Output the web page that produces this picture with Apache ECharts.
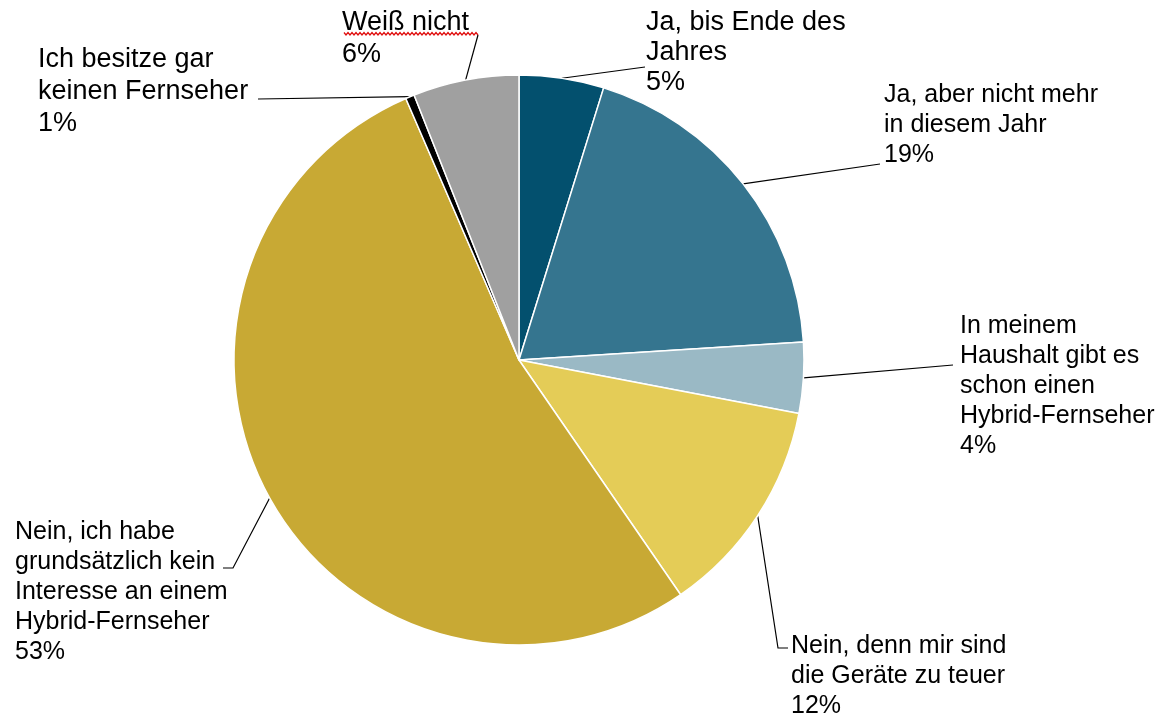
<!DOCTYPE html>
<html>
<head>
<meta charset="utf-8">
<script src="https://cdn.jsdelivr.net/npm/echarts@6/dist/echarts.min.js"></script>
<style>
html, body { margin: 0; padding: 0; background: #fff; }
#chart { width: 1167px; height: 719px; }
</style>
</head>
<body>
<div id="chart"></div>
<script>
// Anteile (Prozent), im Uhrzeigersinn ab 12 Uhr
var categories = [
	'Ja, bis Ende des\nJahres',
	'Ja, aber nicht mehr\nin diesem Jahr',
	'In meinem\nHaushalt gibt es\nschon einen\nHybrid-Fernseher',
	'Nein, denn mir sind\ndie Geräte zu teuer',
	'Nein, ich habe\ngrundsätzlich kein\nInteresse an einem\nHybrid-Fernseher',
	'Ich besitze gar\nkeinen Fernseher',
	'Weiß nicht'
];
var values = [4.8, 19.2, 4.0, 12.4, 53.1, 0.5, 6.0];
var colors = ['#03506E', '#35758F', '#9AB9C5', '#E4CC57', '#C8A934', '#000000', '#A0A0A0'];

// Beschriftung: linke obere Ecke des Textblocks, Schriftgrösse, Zeilenhöhe
var labelPos = [[646, 8], [884, 80], [960, 311], [791, 631], [15, 517], [38, 44], [342, 7]];
var labelSize = [27, 25, 25, 25, 25, 27, 27];
var labelLine = [30, 30, 30, 30, 30, 32, 32];
// Knick- und Endpunkt der Führungslinie
var lineBend = [[645, 67], [880, 164], [953, 365], [778, 648], [233, 568], [258, 99], [478, 35]];
var lineEnd = [[645, 67], [880, 164], [953, 365], [788, 648], [223, 568], [258, 99], [478, 35]];

var chart = echarts.init(document.getElementById('chart'));

var pieData = [];
for (var i = 0; i < values.length; i++) {
	pieData.push({
		name: categories[i],
		value: values[i],
		itemStyle: { color: colors[i] },
		label: { fontSize: labelSize[i], lineHeight: labelLine[i] }
	});
}

// rote Rechtschreib-Wellenlinie unter "Weiß nicht"
var squiggle = [];
for (var sx = 344; sx <= 479; sx += 2) {
	squiggle.push([sx, (sx / 2) % 2 === 0 ? 32.5 : 35]);
}

var option = {
	animation: false,
	graphic: [{
		type: 'polyline',
		silent: true,
		shape: { points: squiggle },
		style: { stroke: '#E01010', lineWidth: 1.3, fill: null }
	}],
	series: [{
		type: 'pie',
		center: [519, 360],
		radius: 285,
		startAngle: 90,
		clockwise: true,
		avoidLabelOverlap: false,
		emphasis: { disabled: true },
		itemStyle: { borderColor: '#ffffff', borderWidth: 1.5 },
		label: {
			show: true,
			position: 'outside',
			fontFamily: 'Liberation Sans, Arial, sans-serif',
			fontSize: 25,
			lineHeight: 30,
			color: '#000',
			align: 'left',
			formatter: function(p) {
				return p.name + '\n' + Math.round(p.value) + '%';
			}
		},
		labelLine: {
			show: true,
			lineStyle: { color: '#000', width: 1.2 }
		},
		labelLayout: function(params) {
			var k = params.dataIndex;
			var pts = params.labelLinePoints;
			var start = pts ? pts[0] : lineBend[k];
			return {
				x: labelPos[k][0],
				y: labelPos[k][1],
				align: 'left',
				verticalAlign: 'top',
				labelLinePoints: [start, lineBend[k], lineEnd[k]]
			};
		},
		data: pieData
	}]
};
chart.setOption(option);
window.onresize = chart.resize;
</script>
</body>
</html>
